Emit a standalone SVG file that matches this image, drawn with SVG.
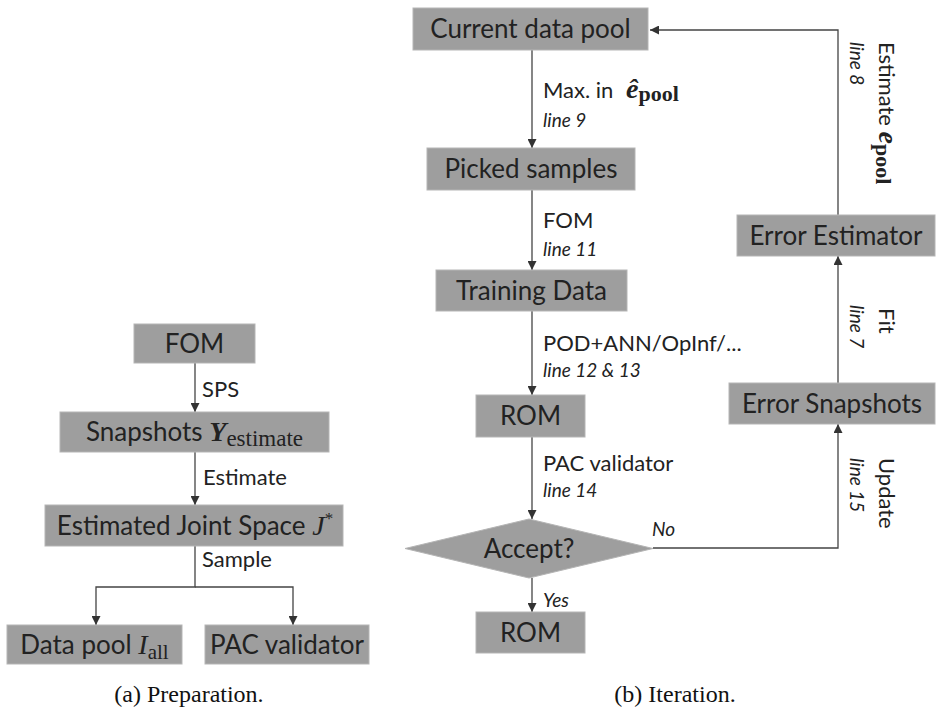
<svg xmlns="http://www.w3.org/2000/svg" width="941" height="709" viewBox="0 0 941 709">
<defs>
<marker id="ah" viewBox="0 0 10 10" refX="10" refY="5" markerWidth="9" markerHeight="9" markerUnits="userSpaceOnUse" orient="auto">
<path d="M0,0 L10,5 L0,10 z" fill="#333"/>
</marker>
<style>
.box{fill:#9e9e9e;stroke:#b5b5b5;stroke-width:1}
.bt{font-family:Lato,"Open Sans",sans-serif;font-size:26px;fill:#222;text-anchor:middle}
.lb{font-family:Lato,"Open Sans",sans-serif;font-size:22px;fill:#222}
.it{font-family:Lato,"Open Sans",sans-serif;font-size:19px;font-style:italic;fill:#222}
.m{font-family:"Liberation Serif",serif}
.cap{font-family:"Liberation Serif","Times New Roman",serif;font-size:24px;fill:#111;text-anchor:middle}
.ln{fill:none;stroke:#444;stroke-width:1.3}
</style>
</defs>
<rect width="941" height="709" fill="#fff"/>

<g id="connectors">
<line class="ln" x1="195" y1="363" x2="195" y2="412" marker-end="url(#ah)"/>
<line class="ln" x1="195" y1="452" x2="195" y2="505" marker-end="url(#ah)"/>
<polyline class="ln" points="195,546 195,587 96,587 96,625" marker-end="url(#ah)"/>
<polyline class="ln" points="195,587 293,587 293,625" marker-end="url(#ah)"/>
<line class="ln" x1="532" y1="50" x2="532" y2="148" marker-end="url(#ah)"/>
<line class="ln" x1="532" y1="190" x2="532" y2="270" marker-end="url(#ah)"/>
<line class="ln" x1="532" y1="311" x2="532" y2="395" marker-end="url(#ah)"/>
<line class="ln" x1="532" y1="437" x2="532" y2="519" marker-end="url(#ah)"/>
<line class="ln" x1="532" y1="578" x2="532" y2="612" marker-end="url(#ah)"/>
<polyline class="ln" points="653,548 838,548 838,424" marker-end="url(#ah)"/>
<line class="ln" x1="838" y1="383" x2="838" y2="256" marker-end="url(#ah)"/>
<polyline class="ln" points="838,215 838,30 650,30" marker-end="url(#ah)"/>

<text class="lb" x="202" y="397">SPS</text>
<text class="lb" x="203" y="485">Estimate</text>
<text class="lb" x="202" y="567">Sample</text>

<text class="lb" x="543" y="98">Max. in <tspan class="m" font-weight="bold" font-style="italic" font-size="28" dx="7">ê</tspan><tspan class="m" font-weight="bold" font-size="22" dy="3">pool</tspan></text>
<text class="it" x="543" y="127">line 9</text>
<text class="lb" x="543" y="228">FOM</text>
<text class="it" x="543" y="256">line 11</text>
<text class="lb" x="543" y="351">POD+ANN/OpInf/...</text>
<text class="it" x="543" y="377">line 12 &amp; 13</text>
<text class="lb" x="543" y="471">PAC validator</text>
<text class="it" x="543" y="497">line 14</text>
<text class="it" x="652" y="536" font-size="20">No</text>
<text class="it" x="543" y="607" font-size="21">Yes</text>

<text class="lb" transform="translate(879,42) rotate(90)">Estimate <tspan class="m" font-weight="bold" font-style="italic" font-size="28">e</tspan><tspan class="m" font-weight="bold" font-size="22" dy="3">pool</tspan></text>
<text class="it" transform="translate(850,42) rotate(90)">line 8</text>
<text class="lb" transform="translate(879,308) rotate(90)">Fit</text>
<text class="it" transform="translate(850,305) rotate(90)">line 7</text>
<text class="lb" transform="translate(879,458) rotate(90)">Update</text>
<text class="it" transform="translate(850,458) rotate(90)">line 15</text>
</g>

<g id="fom"><rect class="box" x="134" y="324" width="121" height="39"/><text class="bt" x="194.5" y="352.5">FOM</text></g>
<g id="snapshots"><rect class="box" x="60" y="412" width="269" height="40"/><text class="bt" x="194.5" y="441">Snapshots <tspan class="m" font-weight="bold" font-style="italic" font-size="28">Y</tspan><tspan class="m" font-size="23" dy="5">estimate</tspan></text></g>
<g id="joint"><rect class="box" x="45" y="505" width="298" height="41"/><text class="bt" x="195" y="534.5">Estimated Joint Space <tspan class="m" font-style="italic" font-size="28">J</tspan><tspan class="m" font-size="17" dy="-11">*</tspan></text></g>
<g id="datapool"><rect class="box" x="7" y="625" width="175" height="39"/><text class="bt" x="94.5" y="653.5">Data pool <tspan class="m" font-style="italic" font-size="28">I</tspan><tspan class="m" font-size="21" dy="5">all</tspan></text></g>
<g id="pacvalidator"><rect class="box" x="205" y="625" width="164" height="39"/><text class="bt" x="287" y="653.5">PAC validator</text></g>

<g id="current"><rect class="box" x="413" y="8" width="235" height="42"/><text class="bt" x="530.5" y="38">Current data pool</text></g>
<g id="picked"><rect class="box" x="427" y="148" width="208" height="42"/><text class="bt" x="531" y="178">Picked samples</text></g>
<g id="training"><rect class="box" x="436" y="270" width="191" height="41"/><text class="bt" x="531.5" y="299.5">Training Data</text></g>
<g id="rom1"><rect class="box" x="476" y="395" width="109" height="42"/><text class="bt" x="530.5" y="425">ROM</text></g>
<g id="accept"><polygon class="box" points="405,548.5 529,519 653,548.5 529,578"/><text class="bt" x="529" y="557.5">Accept?</text></g>
<g id="rom2"><rect class="box" x="476" y="612" width="109" height="41"/><text class="bt" x="530.5" y="641.5">ROM</text></g>
<g id="estimator"><rect class="box" x="737" y="215" width="198" height="41"/><text class="bt" x="836" y="244.5">Error Estimator</text></g>
<g id="errsnap"><rect class="box" x="729" y="383" width="206" height="41"/><text class="bt" x="832" y="412.5">Error Snapshots</text></g>

<text class="cap" x="189" y="702">(a) Preparation.</text>
<text class="cap" x="675" y="702">(b) Iteration.</text>
</svg>
